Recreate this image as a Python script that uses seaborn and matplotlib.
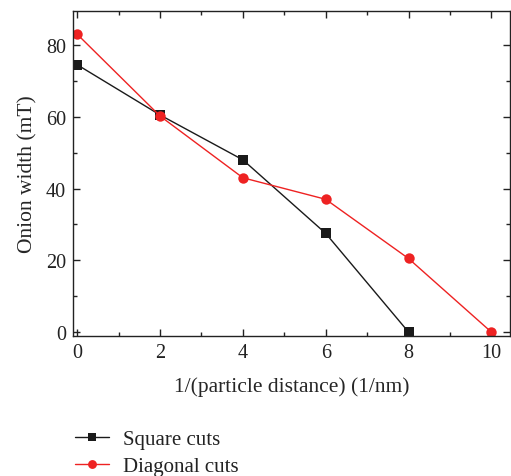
import matplotlib
matplotlib.use("Agg")
import matplotlib.pyplot as plt
from matplotlib.ticker import MultipleLocator
import seaborn as sns
import pandas as pd

x_square = [0, 2, 4, 6, 8]
y_square = [74.5, 60.5, 48.0, 27.5, 0.0]
x_diag = [0, 2, 4, 6, 8, 10]
y_diag = [83.0, 60.2, 43.0, 37.0, 20.5, 0.0]
series_names = ["Square cuts", "Diagonal cuts"]

df = pd.concat([
    pd.DataFrame({"x": x_square, "y": y_square, "series": series_names[0]}),
    pd.DataFrame({"x": x_diag, "y": y_diag, "series": series_names[1]}),
])

sns.set_theme(style="ticks")
plt.rcParams["font.family"] = ["Liberation Serif", "DejaVu Serif"]
plt.rcParams["text.color"] = "#222222"

fig = plt.figure(figsize=(5.11, 4.77), dpi=100)
ax = fig.add_axes([0.143, 0.2935, 0.855, 0.6815])

sns.lineplot(data=df, x="x", y="y", hue="series", style="series",
             palette={series_names[0]: "#1a1a1a", series_names[1]: "#ee2222"},
             markers={series_names[0]: "s", series_names[1]: "o"},
             dashes=False, markersize=7.5, markeredgewidth=0, linewidth=1.0,
             sort=False, ax=ax)

ax.set_xlim(-0.1, 10.45)
ax.set_ylim(-1.1, 89.5)
ax.xaxis.set_major_locator(MultipleLocator(2))
ax.xaxis.set_minor_locator(MultipleLocator(1))
ax.yaxis.set_major_locator(MultipleLocator(20))
ax.yaxis.set_minor_locator(MultipleLocator(10))
ax.tick_params(which="both", direction="in", top=True, right=True,
               labelsize=14.5, colors="#222222", width=1.0)
ax.tick_params(which="major", length=5, pad=5)
ax.tick_params(which="minor", length=3)
for s in ax.spines.values():
    s.set_linewidth(1.0)
    s.set_color("#222222")

ax.set_xlabel("1/(particle distance) (1/nm)", fontsize=15.5, labelpad=10)
ax.set_ylabel("Onion width (mT)", fontsize=15.5, labelpad=6)

h, l = ax.get_legend_handles_labels()
ax.legend_.remove()
fig.legend(h, l, loc="upper left", bbox_to_anchor=(0.131, 0.115),
           frameon=False, fontsize=15, handlelength=1.6, handletextpad=0.7,
           labelspacing=0.35, borderaxespad=0, markerscale=0.85)

fig.savefig("out.png", dpi=100)
